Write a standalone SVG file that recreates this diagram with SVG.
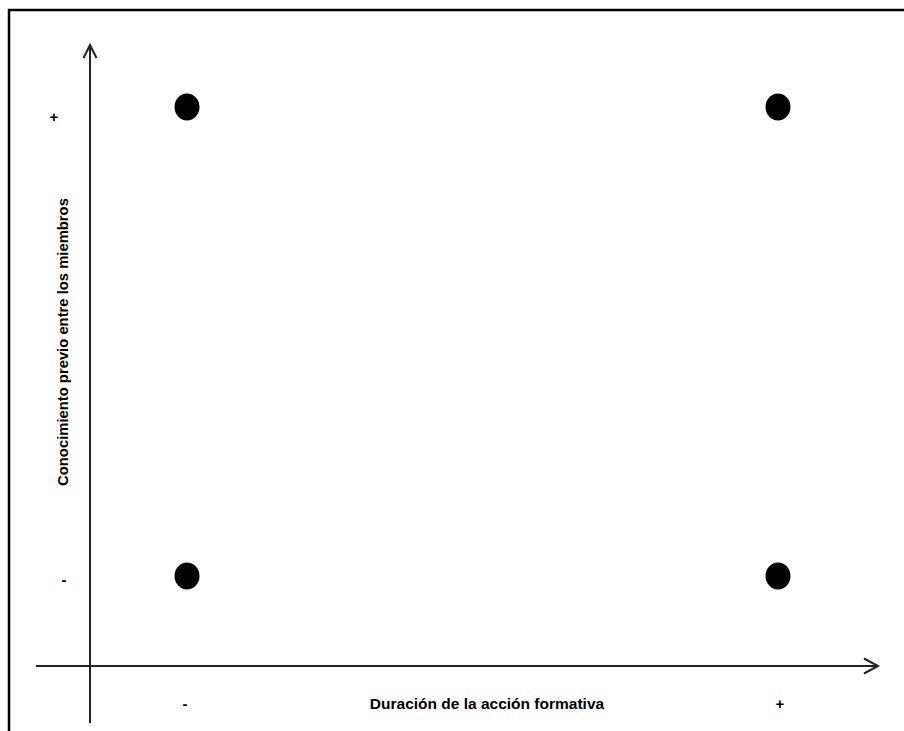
<svg xmlns="http://www.w3.org/2000/svg" width="904" height="731" viewBox="0 0 904 731">
<style>
.t{font-family:"Liberation Sans",Arial,sans-serif;font-weight:bold;font-size:15px;fill:#000}
.ax{stroke:#222;stroke-width:2;fill:none}
.dot{fill:#000}
</style>
<rect width="904" height="731" fill="#fff"/>
<path d="M9,731 V10 H904" stroke="#000" stroke-width="2.5" fill="none"/>
<g id="connectors">
<path class="ax" d="M90,723 V46"/>
<path class="ax" d="M83.5,58 L90,45 L96.5,58"/>
<path class="ax" d="M36,666 H877"/>
<path class="ax" d="M864,658.5 L878,666 L864,673.5"/>
</g>
<g id="dot-tl"><ellipse class="dot" cx="187" cy="107" rx="12.5" ry="13.5"/></g>
<g id="dot-tr"><ellipse class="dot" cx="778" cy="107" rx="12.5" ry="13.5"/></g>
<g id="dot-bl"><ellipse class="dot" cx="187" cy="576" rx="12.5" ry="13.5"/></g>
<g id="dot-br"><ellipse class="dot" cx="778" cy="576" rx="12.5" ry="13.5"/></g>
<g id="labels">
<text class="t" x="54" y="122" text-anchor="middle">+</text>
<text class="t" x="64" y="585" text-anchor="middle">-</text>
<text class="t" x="185" y="709" text-anchor="middle">-</text>
<text class="t" x="780" y="709" text-anchor="middle">+</text>
<text class="t" x="487" y="709" text-anchor="middle" style="font-size:15.5px">Duración de la acción formativa</text>
<text class="t" text-anchor="middle" transform="translate(68,342) rotate(-90)" style="font-size:14.8px">Conocimiento previo entre los miembros</text>
</g>
</svg>
